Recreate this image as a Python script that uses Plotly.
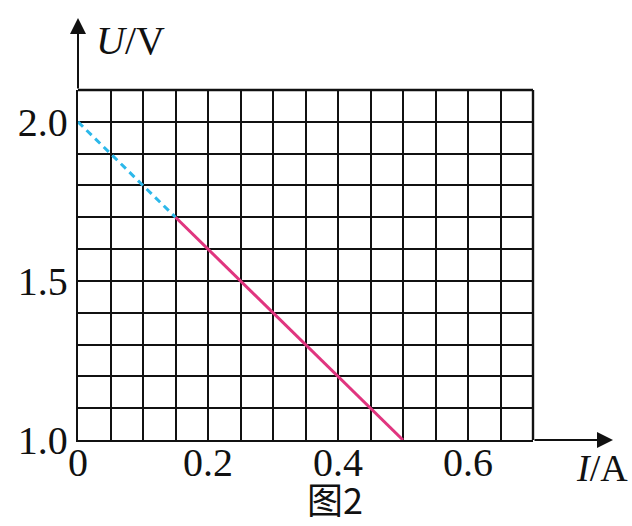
import plotly.graph_objects as go

# Data
I_dashed = [0.0, 0.15]
U_dashed = [2.0, 1.7]
I_solid = [0.15, 0.5]
U_solid = [1.7, 1.0]
x_tick_vals = [0, 0.2, 0.4, 0.6]
x_tick_text = ["0", "0.2", "0.4", "0.6"]
y_tick_vals = [1.0, 1.5, 2.0]
y_tick_text = ["1.0", "1.5", "2.0"]

W, H = 632, 526
L, R, T, B = 78, 99, 90, 86

fig = go.Figure()
fig.add_trace(go.Scatter(x=I_dashed, y=U_dashed, mode="lines",
                         line=dict(color="#2cb8ea", width=3, dash="7px,5px"),
                         showlegend=False, cliponaxis=False, hoverinfo="skip"))
fig.add_trace(go.Scatter(x=I_solid, y=U_solid, mode="lines",
                         line=dict(color="#e0357f", width=3),
                         showlegend=False, cliponaxis=False, hoverinfo="skip"))

font = dict(family="Liberation Serif", size=40, color="#111")

fig.update_layout(
    width=W, height=H,
    margin=dict(l=L, r=R, t=T, b=B, pad=0),
    paper_bgcolor="white", plot_bgcolor="white",
    font=font,
    xaxis=dict(range=[0, 0.7], tickvals=x_tick_vals, ticktext=x_tick_text,
               showticklabels=False,
               showgrid=True, gridcolor="#111", gridwidth=2.4,
               minor=dict(dtick=0.05, showgrid=True, gridcolor="#111", gridwidth=2.4),
               showline=True, linecolor="#111", linewidth=2.4, mirror=False,
               zeroline=False, ticks="", fixedrange=True, automargin=False),
    yaxis=dict(range=[1.0, 2.1], tickvals=y_tick_vals, ticktext=y_tick_text,
               showgrid=True, gridcolor="#111", gridwidth=2.4,
               minor=dict(dtick=0.1, showgrid=True, gridcolor="#111", gridwidth=2.4),
               showline=True, linecolor="#111", linewidth=2.4, mirror=False,
               zeroline=False, ticks="", tickfont=font, fixedrange=True,
               automargin=False),
)

# x tick labels (placed from the tick arrays)
for v, t in zip(x_tick_vals, x_tick_text):
    fig.add_annotation(x=v, y=-23 / 350, xref="x", yref="paper", text=t,
                       showarrow=False, xanchor="center", yanchor="middle",
                       font=font)

# top and right borders
fig.add_shape(type="line", xref="paper", yref="paper", x0=0, x1=1, y0=1, y1=1,
              line=dict(color="#111", width=2.4))
fig.add_shape(type="line", xref="paper", yref="paper", x0=1, x1=1, y0=0, y1=1,
              line=dict(color="#111", width=2.4))

pw = W - L - R
ph = H - T - B
# axis arrows
fig.add_annotation(x=(613 - L) / pw, y=0, xref="paper", yref="paper",
                   ax=-(613 - L - pw), ay=0, axref="pixel", ayref="pixel",
                   text="", showarrow=True, arrowhead=2, arrowsize=1.6,
                   arrowwidth=2, arrowcolor="#111")
fig.add_annotation(x=0, y=(H - B - 18) / ph, xref="paper", yref="paper",
                   ax=0, ay=(T - 18), axref="pixel", ayref="pixel",
                   text="", showarrow=True, arrowhead=2, arrowsize=1.6,
                   arrowwidth=2, arrowcolor="#111")

# axis titles
fig.add_annotation(x=(94 - L) / pw, y=(H - B - 40) / ph, xref="paper", yref="paper",
                   text="<i>U</i>/V", showarrow=False, xanchor="left", yanchor="middle",
                   font=font)
fig.add_annotation(x=(574 - L) / pw, y=(H - B - 468) / ph, xref="paper", yref="paper",
                   text="<i>I</i>/A", showarrow=False, xanchor="left", yanchor="middle",
                   font=dict(family="Liberation Serif", size=38, color="#111"))
fig.add_annotation(x=(335 - L) / pw, y=(H - B - 526) / ph, xref="paper", yref="paper",
                   text="图2", showarrow=False, xanchor="center", yanchor="bottom",
                   font=dict(family="Noto Sans CJK SC, Liberation Serif", size=36, color="#111"))

fig.write_html("out.html", config={"displayModeBar": False},
               post_script="document.body.style.margin='0';document.body.style.overflow='hidden';")
